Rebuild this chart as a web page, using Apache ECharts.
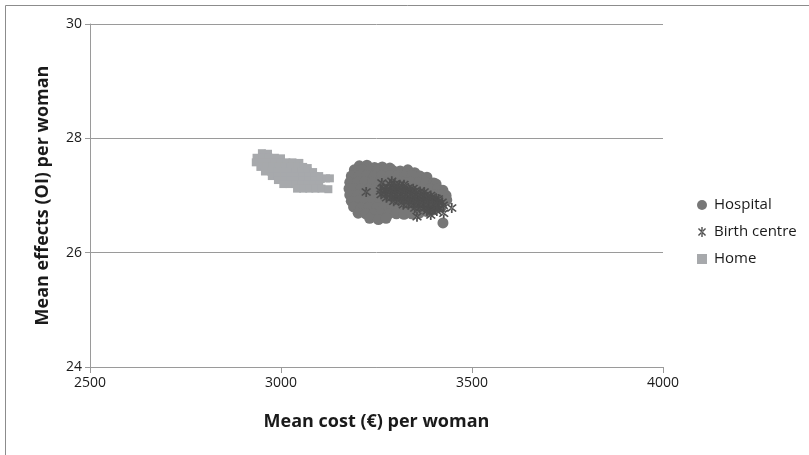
<!DOCTYPE html>
<html><head><meta charset="utf-8">
<script src="https://cdn.jsdelivr.net/npm/echarts@6/dist/echarts.min.js"></script>
<style>html,body{margin:0;padding:0;background:#fff}#c{width:809px;height:455px}</style>
</head><body><div id="c"></div>
<script>
const seriesNames = ['Hospital', 'Birth centre', 'Home'];
const xTicks = [2500, 3000, 3500, 4000];
const yTicks = [24, 26, 28, 30];
const hospital = [
 [3205,27.52],[3225,27.53],[3245,27.49],[3265,27.50],[3285,27.48],
 [3192,27.45],[3212,27.45],[3232,27.44],[3252,27.45],[3272,27.46],[3292,27.44],[3312,27.43],[3332,27.45],[3350,27.40],
 [3184,27.34],[3204,27.34],[3224,27.35],[3244,27.34],[3264,27.34],[3284,27.35],[3304,27.34],[3324,27.34],[3344,27.35],[3364,27.34],[3382,27.32],
 [3180,27.23],[3200,27.23],[3220,27.24],[3240,27.23],[3260,27.23],[3280,27.24],[3300,27.23],[3320,27.23],[3340,27.24],[3360,27.23],[3380,27.23],[3400,27.22],[3406,27.20],
 [3178,27.12],[3190,27.12],[3210,27.12],[3230,27.12],[3250,27.13],[3270,27.12],[3290,27.12],[3310,27.12],[3330,27.12],[3350,27.12],[3370,27.12],[3390,27.12],[3410,27.12],[3424,27.09],
 [3180,27.01],[3200,27.01],[3220,27.01],[3240,27.02],[3260,27.01],[3280,27.01],[3300,27.01],[3320,27.01],[3340,27.01],[3360,27.01],[3380,27.01],[3400,27.01],[3420,27.01],[3432,27.00],
 [3184,26.90],[3200,26.90],[3220,26.90],[3240,26.91],[3260,26.90],[3280,26.90],[3300,26.90],[3320,26.90],[3340,26.90],[3360,26.90],[3380,26.90],[3400,26.90],[3420,26.90],[3434,26.92],
 [3190,26.80],[3210,26.79],[3230,26.79],[3250,26.79],[3270,26.79],[3290,26.79],[3310,26.79],[3330,26.79],[3350,26.79],[3370,26.79],[3390,26.79],[3410,26.80],[3420,26.80],
 [3202,26.69],[3222,26.68],[3242,26.68],[3262,26.68],[3282,26.68],[3302,26.68],[3322,26.67],[3342,26.68],[3362,26.69],[3382,26.72],[3395,26.74],
 [3232,26.60],[3255,26.58],[3275,26.60],
 [3424,26.52]
];
const birthCentre = [
 [3285,27.20],[3298,27.20],[3311,27.19],[3322,27.19],
 [3268,27.14],[3281,27.14],[3294,27.14],[3307,27.14],[3320,27.14],[3333,27.13],[3346,27.12],
 [3260,27.08],[3273,27.08],[3286,27.08],[3299,27.08],[3312,27.08],[3325,27.08],[3338,27.08],[3351,27.08],[3364,27.07],[3375,27.06],
 [3262,27.02],[3275,27.02],[3288,27.02],[3301,27.02],[3314,27.02],[3327,27.02],[3340,27.02],[3353,27.02],[3366,27.02],[3379,27.01],[3392,27.00],
 [3276,26.96],[3289,26.96],[3302,26.96],[3315,26.96],[3328,26.96],[3341,26.96],[3354,26.96],[3367,26.96],[3380,26.96],[3393,26.96],[3406,26.95],[3412,26.94],
 [3295,26.90],[3308,26.90],[3321,26.90],[3334,26.90],[3347,26.90],[3360,26.90],[3373,26.90],[3386,26.90],[3399,26.90],[3412,26.89],[3422,26.88],
 [3320,26.84],[3333,26.84],[3346,26.84],[3359,26.84],[3372,26.84],[3385,26.84],[3398,26.84],[3411,26.84],[3425,26.83],
 [3350,26.78],[3363,26.78],[3376,26.78],[3389,26.78],[3402,26.78],[3415,26.78],
 [3382,26.73],[3395,26.73],[3408,26.73],
 [3223,27.06],[3264,27.22],[3290,27.25],[3392,26.66],[3426,26.69],[3447,26.78],[3356,26.63]
];
const home = [
 [2950,27.74],[2966,27.73],
 [2936,27.66],[2952,27.66],[2968,27.66],[2984,27.66],[3000,27.65],
 [2934,27.58],[2950,27.58],[2966,27.58],[2982,27.58],[2998,27.58],[3014,27.58],[3030,27.58],[3048,27.57],
 [2946,27.50],[2962,27.50],[2978,27.50],[2994,27.50],[3010,27.50],[3026,27.50],[3042,27.50],[3058,27.50],[3070,27.48],
 [2958,27.42],[2974,27.42],[2990,27.42],[3006,27.42],[3022,27.42],[3038,27.42],[3054,27.42],[3070,27.42],[3084,27.41],
 [2976,27.34],[2992,27.34],[3008,27.34],[3024,27.34],[3040,27.34],[3056,27.34],[3072,27.34],[3088,27.34],[3100,27.34],
 [2992,27.27],[3008,27.27],[3024,27.27],[3040,27.27],[3056,27.27],[3072,27.27],[3088,27.27],[3104,27.29],[3118,27.30],[3128,27.30],
 [3006,27.20],[3022,27.20],[3038,27.20],[3054,27.20],[3070,27.20],[3086,27.20],[3100,27.20],
 [3042,27.12],[3058,27.12],[3074,27.12],[3090,27.12],[3106,27.12],[3124,27.11]
];
const asterisk = 'path://M-0.7,-5 L0.7,-5 L0.7,5 L-0.7,5 Z M4.03,3.03 L3.03,4.03 L-4.03,-3.03 L-3.03,-4.03 Z M-4.03,3.03 L-3.03,4.03 L4.03,-3.03 L3.03,-4.03 Z';
const font = '"Open Sans", "Liberation Sans", sans-serif';
const chart = echarts.init(document.getElementById('c'), null, {renderer: 'canvas'});
chart.setOption({
  animation: false,
  backgroundColor: '#fff',
  graphic: [{type: 'rect', shape: {x: 5.5, y: 5.5, width: 1000, height: 1000}, style: {fill: 'none', stroke: '#8c8c8c', lineWidth: 1}, silent: true}],
  grid: {left: 90, right: 146, top: 24, bottom: 88},
  legend: {
    orient: 'vertical', left: 692, top: 192, itemGap: 11, itemWidth: 10, itemHeight: 10,
    textStyle: {fontFamily: font, fontSize: 15, color: '#1a1a1a', lineHeight: 16, padding: [0, 0, 0, 2]},
    data: [
      {name: seriesNames[0], icon: 'circle'},
      {name: seriesNames[1], icon: asterisk},
      {name: seriesNames[2], icon: 'rect'}
    ]
  },
  xAxis: {
    type: 'value', min: xTicks[0], max: xTicks[xTicks.length - 1], interval: 500,
    name: 'Mean cost (€) per woman', nameLocation: 'middle', nameGap: 46,
    nameTextStyle: {fontFamily: font, fontSize: 18, fontWeight: 'bold', color: '#1a1a1a'},
    axisLine: {show: true, lineStyle: {color: '#9a9a9a', width: 1}},
    axisTick: {show: true, length: 6, lineStyle: {color: '#9a9a9a'}},
    axisLabel: {fontFamily: font, fontSize: 14, color: '#1a1a1a', margin: 9, formatter: v => String(v)},
    splitLine: {show: false}
  },
  yAxis: {
    type: 'value', min: yTicks[0], max: yTicks[yTicks.length - 1], interval: 2,
    name: 'Mean effects (OI) per woman', nameLocation: 'middle', nameGap: 38,
    nameTextStyle: {fontFamily: font, fontSize: 18, fontWeight: 'bold', color: '#1a1a1a'},
    axisLine: {show: true, lineStyle: {color: '#9a9a9a', width: 1}},
    axisTick: {show: true, length: 5, lineStyle: {color: '#9a9a9a'}},
    axisLabel: {fontFamily: font, fontSize: 14, color: '#1a1a1a', margin: 8, formatter: v => String(v)},
    splitLine: {show: true, lineStyle: {color: '#9a9a9a', width: 1}}
  },
  series: [
    {name: seriesNames[0], type: 'scatter', data: hospital, symbol: 'circle', symbolSize: 11, itemStyle: {color: '#777777', opacity: 1}},
    {name: seriesNames[1], type: 'scatter', data: birthCentre, symbol: asterisk, symbolSize: 10, itemStyle: {color: '#4f4f4f', opacity: 1}},
    {name: seriesNames[2], type: 'scatter', data: home, symbol: 'rect', symbolSize: 8, itemStyle: {color: '#a7a9ac', opacity: 1}}
  ]
});
</script></body></html>
